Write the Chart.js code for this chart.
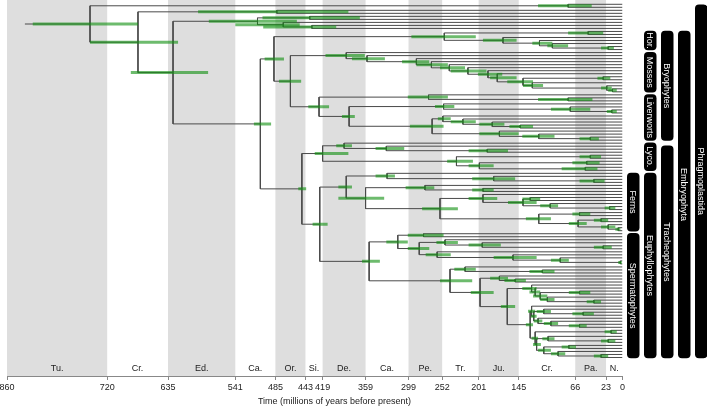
<!DOCTYPE html>
<html>
<head>
<meta charset="utf-8">
<script src="https://cdn.jsdelivr.net/npm/chart.js@4.4.1/dist/chart.umd.min.js"></script>
<style>
  html, body { margin: 0; padding: 0; background: #fff; }
  canvas { display: block; }
</style>
</head>
<body>
<canvas id="chart" width="707" height="407"></canvas>
<script>
// geological periods (Ma) and axis ticks
const periodBounds = [860, 720, 635, 541, 485, 443, 419, 359, 299, 252, 201, 145, 66, 23, 0];
const periodNames = ['Tu.', 'Cr.', 'Ed.', 'Ca.', 'Or.', 'Si.', 'De.', 'Ca.', 'Pe.', 'Tr.', 'Ju.', 'Cr.', 'Pa.', 'N.'];
const tickValues = [860, 720, 635, 541, 485, 443, 419, 359, 299, 252, 201, 145, 66, 23, 0];

// tree nodes: [age, ciOld, ciYoung, upperChild, lowerChild], 0 = tip
const rootStemAge = 835;
const algaeA = [76, 118, 43, 0, 0];
const algaeC = [483, 593, 383, 0, 0];
const algaeD = [510, 578, 455, [437, 503, 367, 0, 0], [474, 541, 451, 0, [434, 502, 400, 0, 0]]];

const hornworts = [249, 295, 205, [48, 76, 27, 0, 0],
  [167, 195, 148, 0, [116, 126, 98, 0, [98, 105, 76, 0, [20, 30, 12, 0, 0]]]]];

const mosses = [386, 415, 360, 0, [357, 378, 332, 0, [288, 308, 270, 0, [267, 288, 244, 0,
  [242, 255, 220, 0, [216, 240, 190, 0, [188, 202, 168, 0, [175, 185, 148, 0,
  [139, 161, 125, [27, 35, 17, 0, 0], [126, 139, 111, 0, [22, 30, 15, 0, [14, 20, 8, 0, 0]]]]]]]]]]]];

const liverworts = [424, 439, 410,
  [271, 300, 244, 0, [76, 118, 42, 0, 0]],
  [382, 392, 374,
    [250, 262, 235, 0, [73, 100, 45, 0, [15, 22, 8, 0, 0]]],
    [266, 297, 250,
      [251, 258, 240, 0, [223, 240, 205, 0, [182, 200, 165, 0, [143, 158, 125, 0, 0]]]],
      [172, 200, 145, 0, [117, 140, 95, 0, [45, 60, 33, 0, 0]]]]]];

const lycophytes = [419, 430, 383,
  [389, 400, 378, 0, [330, 345, 305, 0, [189, 215, 160, 0, 0]]],
  [232, 245, 209, [45, 60, 30, 0, 0], [200, 215, 180, [50, 70, 32, 0, 0], [52, 85, 35, 0, 0]]]];

const ferns = [386, 397, 378,
  [329, 345, 318, 0, [180, 210, 150, 0, [40, 60, 25, 0, 0]]],
  [359, 397, 333,
    [276, 303, 263, 0, [195, 210, 180, 0, 0]],
    [255, 280, 230,
      [195, 215, 175, 0, [139, 160, 120, [129, 140, 115, 0, 0], [101, 115, 90, 0, [18, 25, 10, 0, 0]]]],
      [117, 135, 100, [60, 70, 45, 0, 0], [62, 75, 50, [30, 40, 20, 0, 0], [20, 30, 10, 0, [6, 10, 3, 0, 0]]]]]]];

const gymnosperms = [314, 330, 300,
  [278, 300, 250, 0, 0],
  [284, 300, 270,
    [248, 260, 230, 0, [196, 215, 170, 0, [27, 40, 15, 0, 0]]],
    [259, 275, 240, 0, [153, 180, 120, 0, [87, 100, 75, 0, [3, 6, 1, 0, 0]]]]]];

const angiosperms = [241, 255, 210,
  [220, 235, 205, 0, [112, 130, 95, 0, 0]],
  [199, 212, 180,
    [172, 185, 160, 0, [150, 165, 135, 0, 0]],
    [161, 170, 150,
      [127, 140, 120, 0, [122, 130, 115, 0, [115, 125, 105, [60, 75, 45, 0, 0], [105, 115, 95, 0, [40, 50, 30, 0, 0]]]]],
      [129, 135, 125,
        [127, 132, 122, 0, [124, 128, 120, [110, 120, 100, 0, [55, 70, 40, 0, 0]], [118, 124, 112, 0, [100, 110, 90, 0, [60, 75, 50, 0, 0]]]]],
        [122, 127, 118, [16, 25, 8, 0, 0], [120, 125, 114, [104, 112, 95, 0, [20, 30, 10, 0, 0]], [110, 118, 100, [75, 85, 65, 0, 0], [90, 100, 80, 0, [30, 40, 20, 0, 0]]]]]]]]];

// backbone
const spermatophytes = [354, 364, 339, gymnosperms, angiosperms];
const euphyllophytes = [423, 433, 412, ferns, spermatophytes];
const tracheophytes = [448, 453, 442, lycophytes, euphyllophytes];
const setaphyta = [464, 480, 449, mosses, liverworts];
const bryophytes = [487, 500, 473, hornworts, setaphyta];
const embryophyta = [506, 515, 491, bryophytes, tracheophytes];
const algaeB = [628, 687, 579, algaeD, embryophyta];
const algaeBC = [677, 744, 621, algaeC, algaeB];
const root = [744, 824, 677, algaeA, algaeBC];

// clade bars on the right (tip index ranges)
const cladeNames = ['Hor.', 'Mosses', 'Liverworts', 'Lyco.', 'Ferns', 'Spermatophytes', 'Bryophytes', 'Euphyllophytes', 'Tracheophytes', 'Embryophyta', 'Phragmoplastida'];
const cladeFirst = [9, 16, 30, 46, 56, 76, 9, 56, 47, 9, 0.3];
const cladeLast = [15, 29, 45, 55, 75, 117, 45, 117, 117, 117, 117];
const cladeColumn = [1, 1, 1, 1, 0, 0, 2, 1, 2, 3, 4];

// ---- layout: tips get consecutive indices, nodes sit midway between their children
let tipCount = 0;
function layout(node) {
  if (node === 0) return { y: tipCount++, age: 0, kids: [] };
  const [age, ciOld, ciYoung, a, b] = node;
  const ka = layout(a);
  const kb = layout(b);
  return { y: (ka.y + kb.y) / 2, age, ciOld, ciYoung, kids: [ka, kb] };
}
const tree = layout(root);

const gap = { x: NaN, y: NaN };
const branchPts = [{ x: rootStemAge, y: tree.y }, { x: tree.age, y: tree.y }, gap];
const intervals = [];
function collect(n) {
  if (!n.kids.length) return;
  branchPts.push({ x: n.age, y: n.kids[0].y }, { x: n.age, y: n.kids[1].y }, gap);
  n.kids.forEach(k => {
    branchPts.push({ x: n.age, y: k.y }, { x: k.age, y: k.y }, gap);
    collect(k);
  });
  intervals.push([{ x: n.ciOld, y: n.y }, { x: n.ciYoung, y: n.y }]);
}
collect(tree);

const datasets = [{
  data: branchPts,
  showLine: true,
  borderColor: '#4a4a4a',
  borderWidth: 1,
  pointRadius: 0,
  spanGaps: false,
  order: 2
}];
intervals.forEach(seg => {
  datasets.push({
    data: seg,
    showLine: true,
    borderColor: 'rgba(20, 145, 20, 0.62)',
    borderWidth: 3,
    borderCapStyle: 'butt',
    pointRadius: 0,
    order: 1
  });
});

const FONT = '"Liberation Sans", Arial, Helvetica, sans-serif';

// tip rows: first tip ~4px below the top, spacing ~3px
const yMin = -1.42;
const yMax = 123.13;

const decorations = {
  id: 'decorations',
  beforeDraw(chart) {
    const { ctx, chartArea, scales: { x } } = chart;
    ctx.save();
    ctx.fillStyle = '#fff';
    ctx.fillRect(0, 0, chart.width, chart.height);
    for (let i = 0; i < periodNames.length; i++) {
      const x0 = x.getPixelForValue(periodBounds[i]);
      const x1 = x.getPixelForValue(periodBounds[i + 1]);
      if (i % 2 === 0) {
        ctx.fillStyle = '#dedede';
        ctx.fillRect(x0, chartArea.top, x1 - x0, chartArea.bottom - chartArea.top);
      }
      ctx.fillStyle = '#222';
      ctx.font = '9px ' + FONT;
      ctx.textAlign = 'center';
      ctx.textBaseline = 'middle';
      ctx.fillText(periodNames[i], (x0 + x1) / 2, chartArea.bottom - 7);
    }
    ctx.restore();
  },
  afterDraw(chart) {
    const { ctx, scales: { y } } = chart;
    ctx.save();
    // axis title
    ctx.fillStyle = '#222';
    ctx.font = '9px ' + FONT;
    ctx.textAlign = 'center';
    ctx.textBaseline = 'middle';
    ctx.fillText('Time (millions of years before present)', 334.5, 401.5);
    // clade bars
    const colX = [627, 644, 661, 678, 695];
    const w = 12.5, r = 4;
    cladeNames.forEach((name, i) => {
      const top = y.getPixelForValue(cladeFirst[i] - 0.5) + 0.8;
      const bot = y.getPixelForValue(cladeLast[i] + 0.5) - 0.8;
      const left = colX[cladeColumn[i]];
      ctx.fillStyle = '#000';
      ctx.beginPath();
      ctx.moveTo(left + r, top);
      ctx.lineTo(left + w - r, top);
      ctx.arcTo(left + w, top, left + w, top + r, r);
      ctx.lineTo(left + w, bot - r);
      ctx.arcTo(left + w, bot, left + w - r, bot, r);
      ctx.lineTo(left + r, bot);
      ctx.arcTo(left, bot, left, bot - r, r);
      ctx.lineTo(left, top + r);
      ctx.arcTo(left, top, left + r, top, r);
      ctx.closePath();
      ctx.fill();
      ctx.save();
      ctx.translate(left + w / 2, (top + bot) / 2);
      ctx.rotate(Math.PI / 2);
      ctx.fillStyle = '#fff';
      ctx.font = '9px ' + FONT;
      ctx.textAlign = 'center';
      ctx.textBaseline = 'middle';
      ctx.fillText(name, 0, 0.5);
      ctx.restore();
    });
    ctx.restore();
  }
};

new Chart(document.getElementById('chart'), {
  type: 'scatter',
  data: { datasets },
  options: {
    responsive: false,
    animation: false,
    events: [],
    layout: { padding: { left: 7, right: 84.5, top: 0, bottom: 0 } },
    plugins: { legend: { display: false }, tooltip: { enabled: false } },
    scales: {
      x: {
        type: 'linear',
        min: 0,
        max: 860,
        reverse: true,
        afterBuildTicks: s => { s.ticks = tickValues.map(v => ({ value: v })); },
        afterFit: s => { s.height = 31; s.paddingLeft = 0; s.paddingRight = 0; },
        ticks: {
          autoSkip: false,
          maxRotation: 0,
          padding: 2,
          color: '#222',
          font: { size: 9, family: FONT }
        },
        grid: { drawOnChartArea: false, tickLength: 4, color: '#888' },
        border: { color: '#888' }
      },
      y: { type: 'linear', min: yMin, max: yMax, reverse: true, display: false }
    }
  },
  plugins: [decorations]
});
</script>
</body>
</html>
